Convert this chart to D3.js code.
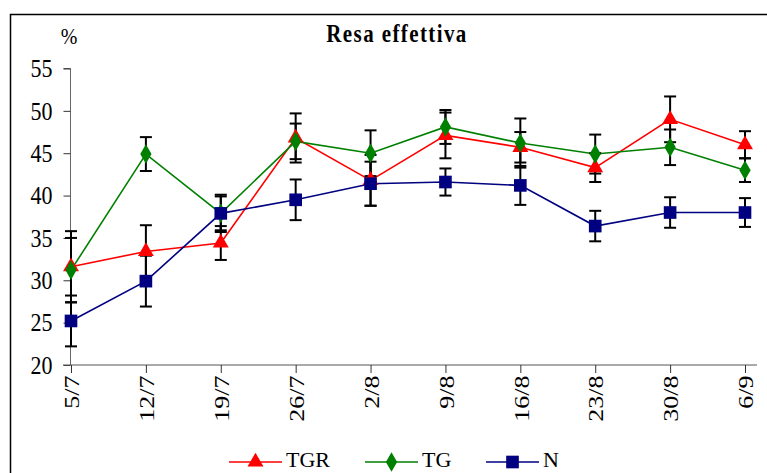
<!DOCTYPE html>
<html>
<head>
<meta charset="utf-8">
<script src="https://cdn.jsdelivr.net/npm/d3@7"></script>
<style>
  body { margin: 0; background: #fff; }
</style>
</head>
<body>
<div id="chart"></div>
<script>
let dates = ['5/7', '12/7', '19/7', '26/7', '2/8', '9/8', '16/8', '23/8', '30/8', '6/9']
let yTicks = [20, 25, 30, 35, 40, 45, 50, 55]

let tgr = [31.6, 33.4, 34.4, 46.8, 41.8, 47.1, 45.7, 43.3, 49.0, 46.0]
let tgrErr = [4.2, 3.1, 2.0, 2.9, 3.0, 2.7, 1.8, 1.7, 2.7, 1.6]

let tg = [31.2, 44.9, 37.9, 46.4, 45.0, 48.1, 46.2, 44.9, 45.7, 43.0]
let tgErr = [3.8, 2.0, 2.0, 2.1, 2.7, 2.0, 2.9, 2.3, 2.1, 1.4]

let n = [25.2, 29.9, 37.9, 39.5, 41.4, 41.6, 41.2, 36.4, 38.0, 38.0]
let nErr = [3.0, 3.0, 2.2, 2.4, 2.6, 1.6, 2.3, 1.8, 1.8, 1.7]

let series = [
  { name: 'TGR', values: tgr, err: tgrErr, color: '#ff0000', symbol: d3.symbolTriangle, size: 110 },
  { name: 'TG', values: tg, err: tgErr, color: '#008000', symbol: d3.symbolDiamond, size: 110 },
  { name: 'N', values: n, err: nErr, color: '#000080', symbol: d3.symbolSquare, size: 160 }
]

let width = 767
let height = 473
let serif = "'Liberation Serif', 'Times New Roman', serif"
// the original picture is a little stretched vertically, text included
let stretch = 'scale(1,1.18)'

let svg = d3.select('#chart')
  .append('svg')
    .attr('width', width)
    .attr('height', height)

// outer frame (only top and left edges visible in the picture)
svg.append('path')
  .attr('d', 'M10.5,480 V14.5 H780')
  .attr('fill', 'none')
  .attr('stroke', '#000')
  .attr('stroke-width', 1.5)

let xScale = d3.scalePoint()
  .domain(dates)
  .range([71, 745])

let yScale = d3.scaleLinear()
  .domain([20, 55])
  .range([365, 68.5])

// y axis
let yAxis = svg.append('g')
  .attr('transform', 'translate(70.5,0)')
  .call(d3.axisLeft(yScale).tickValues(yTicks).tickSize(7).tickPadding(11))
yAxis.select('.domain').attr('d', 'M-7,68.5 H0 V365').attr('stroke', '#666')
yAxis.selectAll('.tick line').attr('stroke', '#333')
yAxis.selectAll('text')
  .style('font-family', serif)
  .style('font-size', '22px')
  .style('fill', '#000')
  .attr('transform', stretch)

// x axis
let xAxis = svg.append('g')
  .attr('transform', 'translate(0,365)')
  .call(d3.axisBottom(xScale).tickSize(8).tickPadding(0))
xAxis.select('.domain').attr('d', 'M63,0 H757').attr('stroke', '#555')
xAxis.selectAll('.tick line').attr('stroke', '#333')
xAxis.selectAll('text')
  .style('font-family', serif)
  .style('font-size', '22px')
  .style('fill', '#000')
  .attr('transform', stretch + ' rotate(-90)')
  .attr('x', -9)
  .attr('y', 0)
  .attr('dy', '0.35em')
  .attr('text-anchor', 'end')

// title and unit
svg.append('text')
  .attr('transform', 'translate(397,42) ' + stretch)
  .attr('text-anchor', 'middle')
  .style('font-family', serif)
  .style('font-size', '21px')
  .style('font-weight', 'bold')
  .style('letter-spacing', '1.4px')
  .text('Resa effettiva')

svg.append('text')
  .attr('transform', 'translate(69,44) ' + stretch)
  .attr('text-anchor', 'middle')
  .style('font-family', serif)
  .style('font-size', '20px')
  .text('%')

let line = d3.line()
  .x((d, i) => xScale(dates[i]))
  .y((d) => yScale(d))

// lines
series.forEach((s) => {
  svg.append('path')
    .datum(s.values)
    .attr('d', line)
    .attr('fill', 'none')
    .attr('stroke', s.color)
    .attr('stroke-width', 1.6)
})

// error bars
series.forEach((s) => {
  let g = svg.append('g')
  s.values.forEach((v, i) => {
    let x = xScale(dates[i])
    let y1 = yScale(v + s.err[i])
    let y2 = yScale(v - s.err[i])
    g.append('line').attr('x1', x).attr('x2', x).attr('y1', y1).attr('y2', y2)
    g.append('line').attr('x1', x - 6).attr('x2', x + 6).attr('y1', y1).attr('y2', y1)
    g.append('line').attr('x1', x - 6).attr('x2', x + 6).attr('y1', y2).attr('y2', y2)
  })
  g.selectAll('line').attr('stroke', '#000').attr('stroke-width', 2)
})

// markers
series.forEach((s) => {
  svg.append('g').selectAll('path')
    .data(s.values)
    .enter()
    .append('path')
      .attr('d', d3.symbol().type(s.symbol).size(s.size))
      .attr('transform', (d, i) => 'translate(' + xScale(dates[i]) + ',' + yScale(d) + ')')
      .attr('fill', s.color)
})

// legend
let legendX = [229, 365, 486]
series.forEach((s, i) => {
  let g = svg.append('g').attr('transform', 'translate(' + legendX[i] + ',462)')
  g.append('line').attr('x1', 0).attr('x2', 53).attr('stroke', s.color).attr('stroke-width', 1.6)
  g.append('path')
    .attr('d', d3.symbol().type(s.symbol).size(s.size))
    .attr('transform', 'translate(26.5,0)')
    .attr('fill', s.color)
  g.append('text')
    .attr('x', 57)
    .attr('y', 5)
    .style('font-family', serif)
    .style('font-size', '22px')
    .text(s.name)
})
</script>
</body>
</html>
